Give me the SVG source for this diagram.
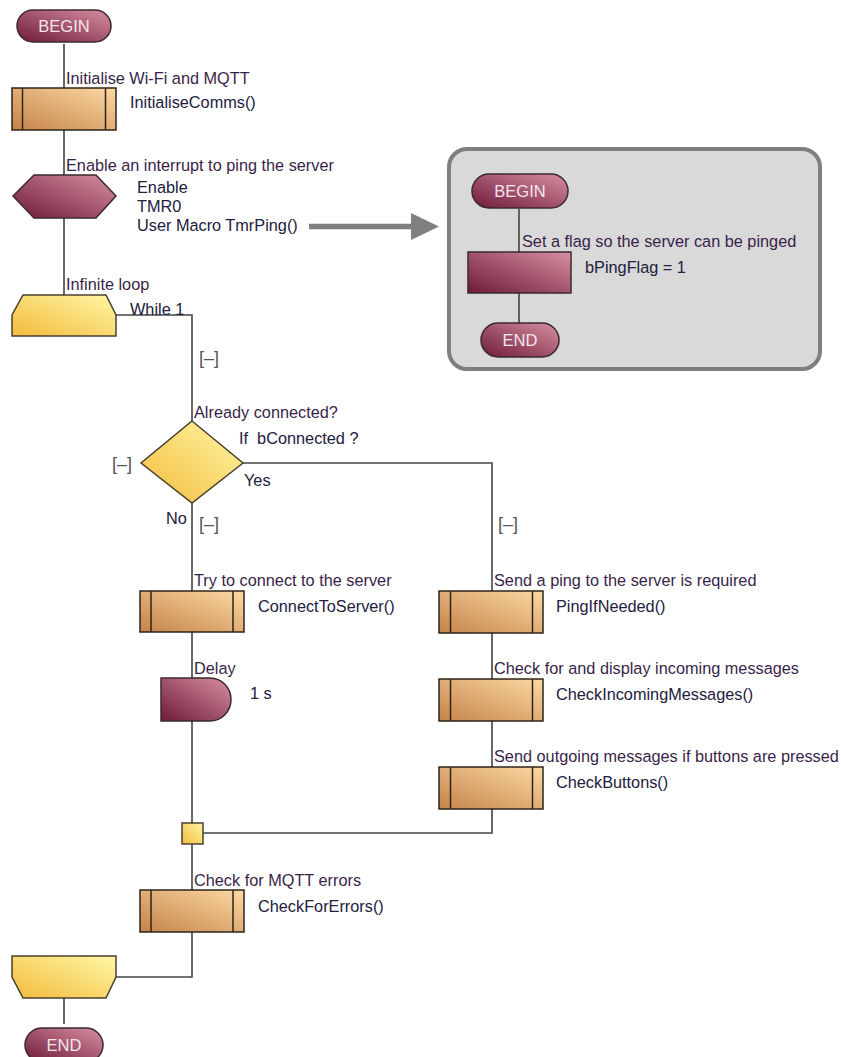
<svg xmlns="http://www.w3.org/2000/svg" width="841" height="1057" viewBox="0 0 841 1057">
<defs>
<linearGradient id="gCall" x1="0" y1="1" x2="1" y2="0"><stop offset="0" stop-color="#c4834a"/><stop offset="1" stop-color="#fdd9a3"/></linearGradient>
<linearGradient id="gMar" x1="0" y1="1" x2="1" y2="0"><stop offset="0" stop-color="#6e1a38"/><stop offset="1" stop-color="#d890a2"/></linearGradient>
<linearGradient id="gYel" x1="0" y1="1" x2="1" y2="0"><stop offset="0" stop-color="#f3bb3c"/><stop offset="1" stop-color="#fff7a6"/></linearGradient>
<style>
.t{font-family:"Liberation Sans",Arial,sans-serif;font-size:16.3px;fill:#22203e}
.c{font-family:"Liberation Sans",Arial,sans-serif;font-size:16.3px;fill:#3a1f4a}
.term{font-family:"Liberation Sans",Arial,sans-serif;font-size:16.5px;fill:#f4e4ec;text-anchor:middle}
.br{font-family:"Liberation Sans",Arial,sans-serif;font-size:18px;fill:#555555}
.call{fill:url(#gCall);stroke:#2e2418;stroke-width:1.5}
.mar{fill:url(#gMar);stroke:#3a2a30;stroke-width:1.5}
.yel{fill:url(#gYel);stroke:#4a4030;stroke-width:1.5}
.in{stroke:#2e2418;stroke-width:1.5}
.ln{fill:none;stroke:#444444;stroke-width:1.6}
</style>
</defs>
<rect width="841" height="1057" fill="#ffffff"/>

<g id="connectors">
<path class="ln" d="M64 44V88M64 130V175M64 218V295"/>
<path class="ln" d="M116 315H192V421"/>
<path class="ln" d="M243 463H492V591"/>
<path class="ln" d="M192 503V591M192 632V678M192 721V823"/>
<path class="ln" d="M492 633V679M492 721V767M492 809V833H203"/>
<path class="ln" d="M192 844V890M192 932V977H116"/>
<path class="ln" d="M64 998V1024"/>
</g>

<g id="begin"><rect x="17" y="10" width="94" height="32" rx="16" class="mar"/><text x="64" y="32" class="term">BEGIN</text></g>

<g id="initComms">
<text x="66" y="84" class="c">Initialise Wi-Fi and MQTT</text>
<rect x="12" y="88" width="104" height="42" class="call"/>
<line x1="22.5" y1="88" x2="22.5" y2="130" class="in"/><line x1="105.5" y1="88" x2="105.5" y2="130" class="in"/>
<text x="130" y="108" class="t">InitialiseComms()</text>
</g>

<g id="interrupt">
<text x="66" y="171" class="c">Enable an interrupt to ping the server</text>
<polygon points="13,196 34,175 96,175 116,196 96,218 34,218" class="mar"/>
<text x="137" y="193" class="t">Enable</text>
<text x="137" y="212" class="t">TMR0</text>
<text x="137" y="231" class="t">User Macro TmrPing()</text>
</g>

<g id="macroArrow">
<line x1="309" y1="226.5" x2="413" y2="226.5" stroke="#808080" stroke-width="5.5"/>
<polygon points="411,213 439,226.5 411,240" fill="#808080"/>
</g>

<g id="tmrPingMacro">
<rect x="449" y="149" width="371" height="220" rx="18" fill="#d9d9d9" stroke="#7f7f7f" stroke-width="4"/>
<g id="subConnectors"><path class="ln" d="M519 209V252M519 293V323"/></g>
<g id="subBegin"><rect x="472" y="174" width="96" height="34" rx="17" class="mar"/><text x="520" y="197" class="term">BEGIN</text></g>
<g id="setFlag">
<text x="522" y="247" class="c">Set a flag so the server can be pinged</text>
<rect x="468" y="252" width="103" height="41" class="mar"/>
<text x="585" y="273" class="t">bPingFlag = 1</text>
</g>
<g id="subEnd"><rect x="481" y="323" width="78" height="34" rx="17" class="mar"/><text x="520" y="346" class="term">END</text></g>
</g>

<g id="loopStart">
<text x="66" y="290" class="c">Infinite loop</text>
<polygon points="12,336 12,315 23,295 106,295 116,315 116,336" class="yel"/>
<text x="130" y="315" class="t">While 1</text>
<text x="199" y="364" class="br">[–]</text>
</g>

<g id="decision">
<text x="194" y="418" class="c">Already connected?</text>
<polygon points="192,421 243,463 192,503 141,463" class="yel"/>
<text x="239" y="444" class="t" style="white-space:pre">If  bConnected ?</text>
<text x="112" y="470" class="br">[–]</text>
<text x="244" y="486" class="t">Yes</text>
<text x="166" y="524" class="t">No</text>
<text x="199" y="530" class="br">[–]</text>
<text x="498" y="530" class="br">[–]</text>
</g>

<g id="connectToServer">
<text x="194" y="586" class="c">Try to connect to the server</text>
<rect x="140" y="591" width="104" height="41" class="call"/>
<line x1="151" y1="591" x2="151" y2="632" class="in"/><line x1="233" y1="591" x2="233" y2="632" class="in"/>
<text x="258" y="612" class="t">ConnectToServer()</text>
</g>

<g id="delay">
<text x="194" y="674" class="c">Delay</text>
<path d="M161 678H210A21 21.5 0 0 1 210 721H161Z" class="mar"/>
<text x="250" y="699" class="t">1 s</text>
</g>

<g id="pingIfNeeded">
<text x="494" y="586" class="c">Send a ping to the server is required</text>
<rect x="439" y="591" width="104" height="42" class="call"/>
<line x1="450.5" y1="591" x2="450.5" y2="633" class="in"/><line x1="532.5" y1="591" x2="532.5" y2="633" class="in"/>
<text x="556" y="612" class="t">PingIfNeeded()</text>
</g>

<g id="checkIncoming">
<text x="494" y="674" class="c">Check for and display incoming messages</text>
<rect x="439" y="679" width="104" height="42" class="call"/>
<line x1="450.5" y1="679" x2="450.5" y2="721" class="in"/><line x1="532.5" y1="679" x2="532.5" y2="721" class="in"/>
<text x="556" y="700" class="t">CheckIncomingMessages()</text>
</g>

<g id="checkButtons">
<text x="494" y="762" class="c">Send outgoing messages if buttons are pressed</text>
<rect x="439" y="767" width="104" height="42" class="call"/>
<line x1="450.5" y1="767" x2="450.5" y2="809" class="in"/><line x1="532.5" y1="767" x2="532.5" y2="809" class="in"/>
<text x="556" y="788" class="t">CheckButtons()</text>
</g>

<g id="junction"><rect x="182" y="823" width="21" height="21" class="yel"/></g>

<g id="checkForErrors">
<text x="194" y="886" class="c">Check for MQTT errors</text>
<rect x="140" y="890" width="104" height="42" class="call"/>
<line x1="151" y1="890" x2="151" y2="932" class="in"/><line x1="233" y1="890" x2="233" y2="932" class="in"/>
<text x="258" y="912" class="t">CheckForErrors()</text>
</g>

<g id="loopEnd"><polygon points="12,956 116,956 116,977 106,998 23,998 12,977" class="yel"/></g>

<g id="end"><rect x="25" y="1028" width="78" height="34" rx="17" class="mar"/><text x="64" y="1051" class="term">END</text></g>
</svg>
